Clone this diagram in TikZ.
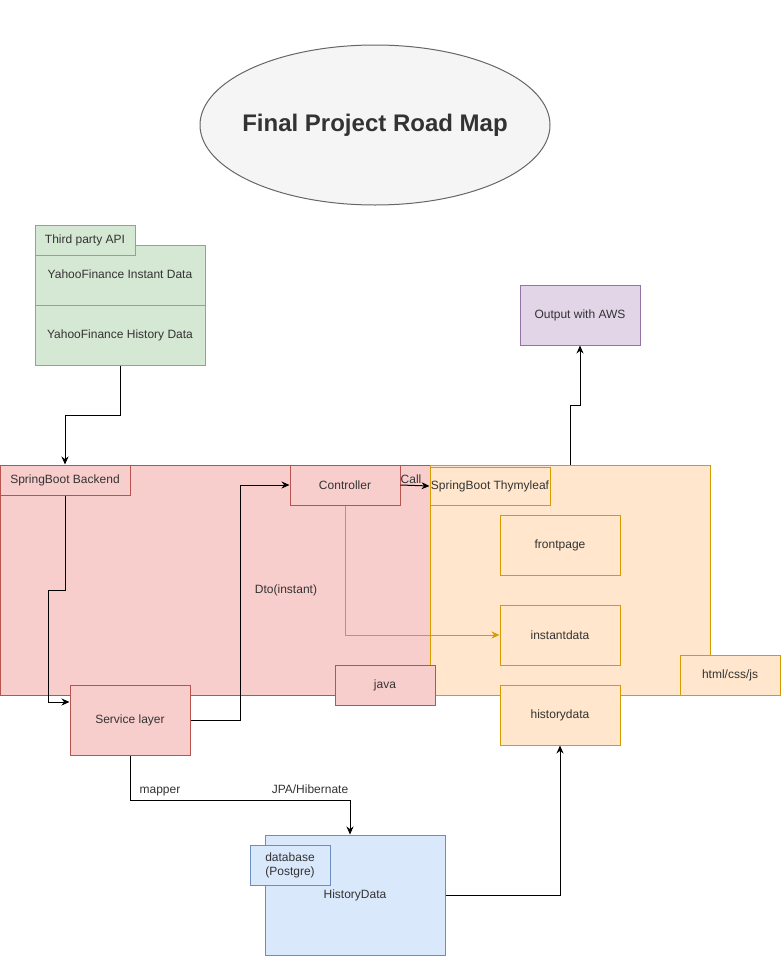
\documentclass[tikz,border=0pt]{standalone}
\usepackage{fontspec}
\setmainfont{Liberation Sans}
\usetikzlibrary{arrows.meta,shapes.geometric}

\definecolor{greenfill}{HTML}{D5E8D4}
\definecolor{greenline}{HTML}{82B366}
\definecolor{redfill}{HTML}{F8CECC}
\definecolor{redline}{HTML}{B85450}
\definecolor{orangefill}{HTML}{FFE6CC}
\definecolor{orangeline}{HTML}{D79B00}
\definecolor{purplefill}{HTML}{E1D5E7}
\definecolor{purpleline}{HTML}{9673A6}
\definecolor{bluefill}{HTML}{DAE8FC}
\definecolor{blueline}{HTML}{6C8EBF}
\definecolor{greyfill}{HTML}{F5F5F5}
\definecolor{greyline}{HTML}{666666}
\definecolor{darktext}{HTML}{333333}

\tikzset{
    box/.style={rectangle, draw, line width=1pt, inner sep=0pt, align=center,
        font=\fontsize{12}{14}\selectfont, text=darktext},
    greenbox/.style={box, fill=greenfill, draw=greenline},
    redbox/.style={box, fill=redfill, draw=redline},
    orangebox/.style={box, fill=orangefill, draw=orangeline},
    purplebox/.style={box, fill=purplefill, draw=purpleline},
    bluebox/.style={box, fill=bluefill, draw=blueline},
    link/.style={line width=1pt, -{Stealth[length=8pt,width=7pt]}},
    tag/.style={font=\fontsize{12}{14}\selectfont, text=darktext, inner sep=1pt}
}

\begin{document}
\begin{tikzpicture}[x=1pt,y=-1pt]
    \useasboundingbox (0,0) rectangle (781,956);

    % title
    \node[ellipse, draw=greyline, fill=greyfill, line width=1pt, inner sep=0pt,
        minimum width=350, minimum height=160] (title) at (375,125) {};
    \node[text=darktext, font=\fontsize{24}{28}\selectfont\bfseries] (titletext)
        at (title.center) {Final Project Road Map};

    % third party api
    \node[greenbox, minimum width=170, minimum height=120] (api) at (120,305) {};
    \draw[greenline, line width=1pt] (35,305) -- (205,305);
    \node[greenbox, minimum width=100, minimum height=30] (apitab) at (85,240) {Third party API};
    \node[tag] (instant) at (120,274) {YahooFinance Instant Data};
    \node[tag] (history) at (120,335) {YahooFinance History Data};

    % backend and frontend areas
    \node[redbox, minimum width=430, minimum height=230] (backend) at (215,580) {};
    \node[orangebox, minimum width=280, minimum height=230] (frontend) at (570,580) {};
    \node[redbox, minimum width=130, minimum height=30] (backendtab) at (65,480) {SpringBoot Backend};
    \node[redbox, minimum width=110, minimum height=40] (controller) at (345,485) {Controller};
    \node[orangebox, minimum width=120, minimum height=38] (thymeleaf) at (490,486) {SpringBoot Thymyleaf};
    \node[orangebox, minimum width=120, minimum height=60] (frontpage) at (560,545) {frontpage};
    \node[orangebox, minimum width=120, minimum height=60] (instantdata) at (560,635) {instantdata};
    \node[orangebox, minimum width=120, minimum height=60] (historydata) at (560,715) {historydata};
    \node[orangebox, minimum width=100, minimum height=40] (webtab) at (730,675) {html/css/js};
    \node[redbox, minimum width=100, minimum height=40] (java) at (385,685) {java};
    \node[redbox, minimum width=120, minimum height=70] (service) at (130,720) {Service layer};

    % output
    \node[purplebox, minimum width=120, minimum height=60] (aws) at (580,315) {Output with AWS};

    % database
    \node[bluebox, minimum width=180, minimum height=120] (db) at (355,895) {HistoryData};
    \node[bluebox, minimum width=80, minimum height=40] (dbtab) at (290,865) {database\\(Postgre)};

    % connectors
    \draw[link] (api.south) |- (65,415) -- (backendtab.north);
    \draw[link] (backendtab.south) -- (65,590) -| (48,702) -- (service.west |- 0,702);
    \draw[link] (service.east) -| (240,485) -- (controller.west);
    \draw[link] (controller.east) -- (thymeleaf.west);
    \draw[link, draw=orangeline, -{Stealth[length=8pt,width=7pt]}, line width=0.8pt]
        (controller.south) |- (instantdata.west);
    \draw[link] (service.south) |- (350,800) -- (db.north -| 350,0);
    \draw[link] (db.east) -| (historydata.south);
    \draw[link] (frontend.north) -- (570,405) -| (aws.south);

    % labels
    \node[tag] (call) at (411,479) {Call};
    \node[tag] (dto) at (286,590) {Dto(instant)};
    \node[tag] (mapper) at (160,792) {mapper};
    \node[tag] (jpa) at (310,789) {JPA/Hibernate};
\end{tikzpicture}
\end{document}
